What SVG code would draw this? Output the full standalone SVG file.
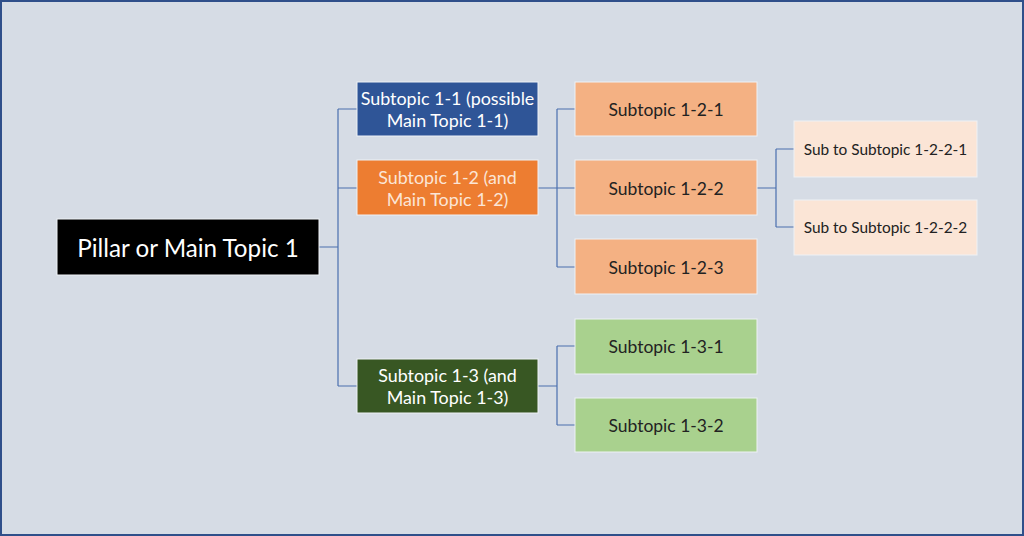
<svg xmlns="http://www.w3.org/2000/svg" width="1024" height="536" viewBox="0 0 1024 536">
<style>
.t{font-family:Lato,"Open Sans","Liberation Sans",sans-serif;text-anchor:middle;dominant-baseline:central}
.box{stroke:#eef1f6;stroke-width:1}
.c{fill:none;stroke:#4a6fae;stroke-width:1.2}
</style>
<rect x="1" y="1" width="1022" height="534" fill="#d6dce5" stroke="#2f4f8a" stroke-width="2"/>
<g id="connectors">
<path class="c" d="M319 247H338M338 109V386M338 109H357M338 188H357M338 386H357"/>
<path class="c" d="M538 188H575M557 109V267M557 109H575M557 267H575"/>
<path class="c" d="M538 386H557M557 346V425M557 346H575M557 425H575"/>
<path class="c" d="M757 188H776M776 149V227M776 149H794M776 227H794"/>
</g>
<g id="main"><rect class="box" x="57" y="219" width="262" height="56" fill="#000"/><text class="t" x="188" y="247" font-size="24.2" fill="#fff">Pillar or Main Topic 1</text></g>
<g id="s11"><rect class="box" x="357" y="82" width="181" height="54" fill="#2f5597"/><text class="t" x="447.5" y="98" font-size="17.9" fill="#fff">Subtopic 1-1 (possible</text><text class="t" x="447.5" y="119.5" font-size="17.9" fill="#fff">Main Topic 1-1)</text></g>
<g id="s12"><rect class="box" x="357" y="160" width="181" height="55" fill="#ed7d31"/><text class="t" x="447.5" y="177" font-size="17.9" fill="#fbe5d6">Subtopic 1-2 (and</text><text class="t" x="447.5" y="198.5" font-size="17.9" fill="#fbe5d6">Main Topic 1-2)</text></g>
<g id="s13"><rect class="box" x="357" y="359" width="181" height="54" fill="#385723"/><text class="t" x="447.5" y="375" font-size="17.9" fill="#fff">Subtopic 1-3 (and</text><text class="t" x="447.5" y="396.5" font-size="17.9" fill="#fff">Main Topic 1-3)</text></g>
<g id="s121"><rect class="box" x="575" y="82" width="182" height="54" fill="#f4b183"/><text class="t" x="666" y="109" font-size="17.5" fill="#222">Subtopic 1-2-1</text></g>
<g id="s122"><rect class="box" x="575" y="160" width="182" height="55" fill="#f4b183"/><text class="t" x="666" y="188" font-size="17.5" fill="#222">Subtopic 1-2-2</text></g>
<g id="s123"><rect class="box" x="575" y="239" width="182" height="55" fill="#f4b183"/><text class="t" x="666" y="267" font-size="17.5" fill="#222">Subtopic 1-2-3</text></g>
<g id="s131"><rect class="box" x="575" y="319" width="182" height="55" fill="#a9d18e"/><text class="t" x="666" y="346" font-size="17.5" fill="#222">Subtopic 1-3-1</text></g>
<g id="s132"><rect class="box" x="575" y="398" width="182" height="54" fill="#a9d18e"/><text class="t" x="666" y="425" font-size="17.5" fill="#222">Subtopic 1-3-2</text></g>
<g id="s1221"><rect class="box" x="794" y="121" width="183" height="56" fill="#fbe5d6"/><text class="t" x="885.5" y="149" font-size="15.4" fill="#222">Sub to Subtopic 1-2-2-1</text></g>
<g id="s1222"><rect class="box" x="794" y="200" width="183" height="55" fill="#fbe5d6"/><text class="t" x="885.5" y="227" font-size="15.4" fill="#222">Sub to Subtopic 1-2-2-2</text></g>
</svg>
